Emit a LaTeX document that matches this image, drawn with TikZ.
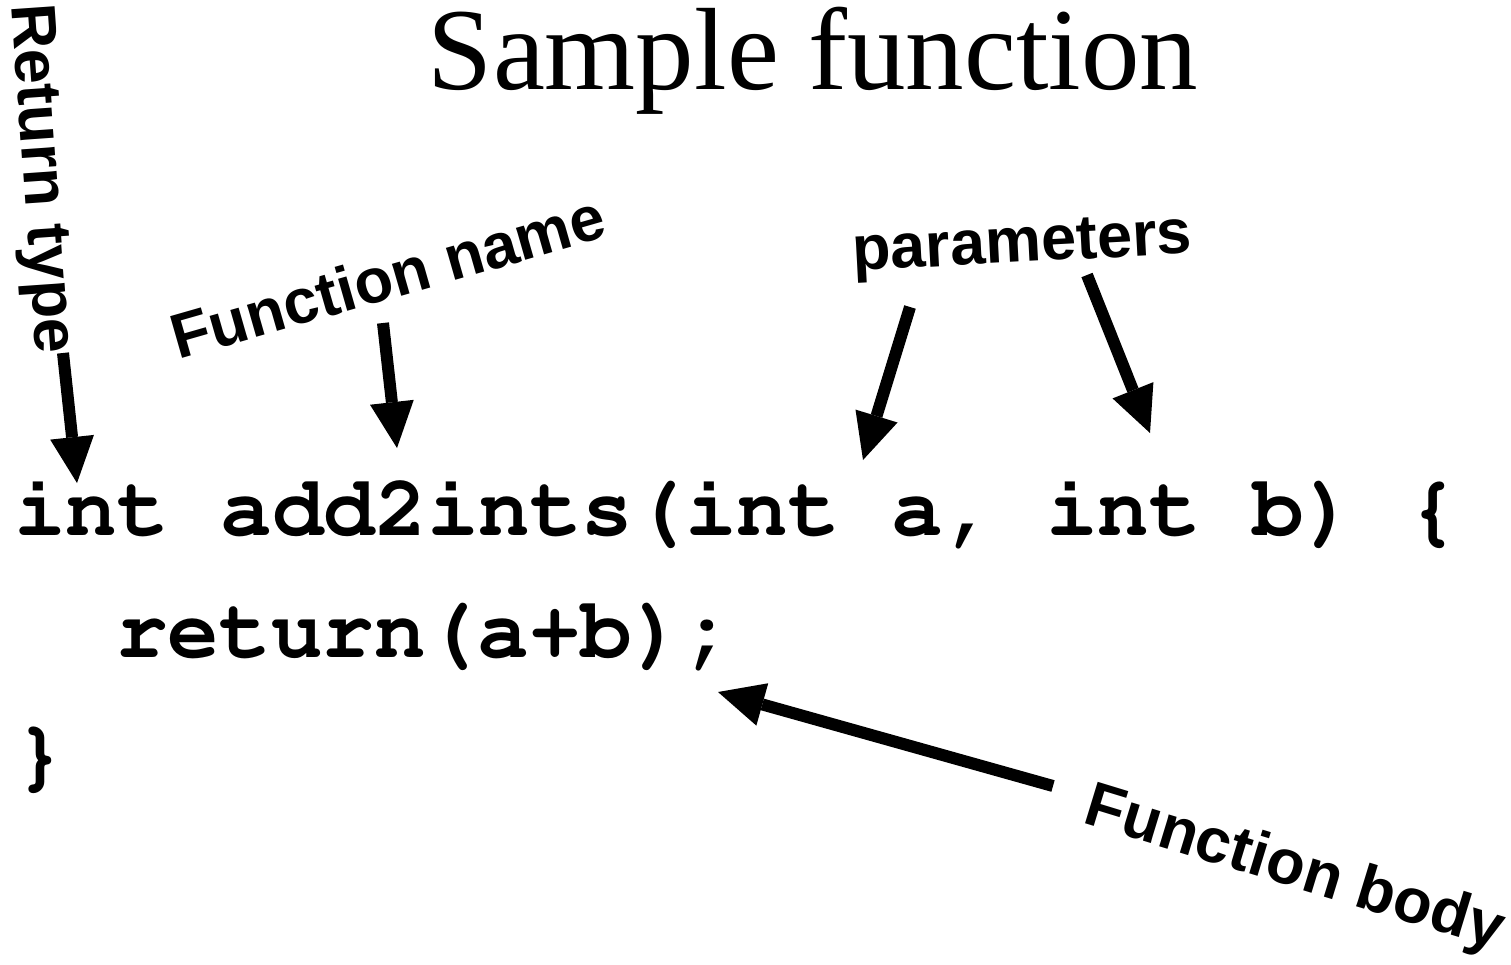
\documentclass[tikz,border=0pt]{standalone}
\usepackage[T1]{fontenc}
\usepackage{fontspec}
\setmainfont{Liberation Serif}
\newcommand\codefont{\fontencoding{T1}\fontfamily{pcr}\fontseries{b}\selectfont}
\newfontfamily\notefont{Liberation Sans}
\newfontfamily\titlefont{Liberation Serif}
\usetikzlibrary{arrows.meta}

\begin{document}
\begin{tikzpicture}[x=1pt,y=-1pt,
  code/.style={anchor=base west,inner sep=0pt,font=\codefont\fontsize{86}{100}\selectfont},
  note/.style={anchor=base,inner sep=0pt,font=\notefont\bfseries\fontsize{63}{70}\selectfont},
  pointer/.style={line width=12pt,-{Triangle[length=46pt,width=44pt,line width=0pt]}}]
\useasboundingbox (0,0) rectangle (1511,964);

\node[anchor=base,inner sep=0pt,font=\titlefont\fontsize{117}{120}\selectfont] (title) at (813,89) {Sample function};

% the code
\node[code] (head) at (14,535) {int add2ints(int a, int b) \{};
\node[code] (body) at (116,657) {return(a+b);};
\node[code] (close) at (14,780) {\}};

% the labels
\node[note,rotate=-86] (rettype) at (24,180) {Return type};
\node[note,rotate=16] (fname) at (394,298) {Function name};
\node[note,rotate=3] (params) at (1023,262) {parameters};
\node[note,rotate=-17] (fbody) at (1289,886) {Function body};

\coordinate (rettail) at (63,353);
\coordinate (rettip) at (77,483);
\coordinate (nametail) at (383,323);
\coordinate (nametip) at (397,448);
\coordinate (atail) at (910,307);
\coordinate (atip) at (863,460);
\coordinate (btail) at (1087,275);
\coordinate (btip) at (1150,433);
\coordinate (bodytail) at (1053,786);
\coordinate (bodytip) at (718,692);

\draw[pointer] (rettail) -- (rettip);
\draw[pointer] (nametail) -- (nametip);
\draw[pointer] (atail) -- (atip);
\draw[pointer] (btail) -- (btip);
\draw[pointer] (bodytail) -- (bodytip);
\end{tikzpicture}
\end{document}
